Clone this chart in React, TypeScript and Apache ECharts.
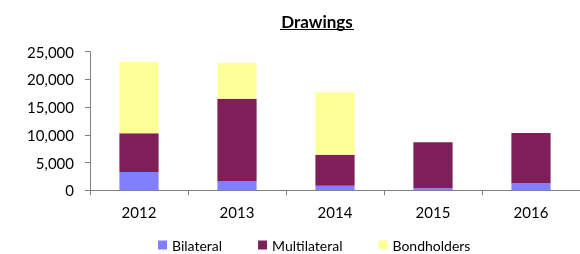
import React, { useEffect, useRef } from "react";
import * as echarts from "echarts";

const categories = ["2012", "2013", "2014", "2015", "2016"];
const bilateral = [3300, 1680, 830, 360, 1250];
const multilateral = [6980, 14850, 5590, 8300, 9090];
const bondholders = [12860, 6490, 11260, 0, 0];
const seriesNames = ["Bilateral", "Multilateral", "Bondholders"];
const colors = ["#8080FF", "#7F1F5A", "#FFFF99"];

export default function App() {
  const ref = useRef<HTMLDivElement>(null);
  useEffect(() => {
    if (!ref.current) return;
    const chart = echarts.init(ref.current, null, { renderer: "svg" });
    const font = "Lato";
    const mk = (name: string, data: number[], color: string) => ({
      name,
      type: "bar",
      stack: "total",
      data,
      barWidth: "40%",
      itemStyle: { color },
    });
    chart.setOption({
      animation: false,
      textStyle: { fontFamily: font },
      graphic: [
        {
          type: "text",
          x: 317,
          y: 21,
          style: {
            text: "Drawings",
            font: "bold 17px Lato",
            fill: "#000",
            align: "center",
            verticalAlign: "middle",
          },
        },
        {
          type: "line",
          shape: { x1: 280, y1: 29.5, x2: 354, y2: 29.5 },
          style: { stroke: "#000", lineWidth: 1.2 },
        },
      ],
      legend: {
        data: seriesNames,
        bottom: -3,
        left: 153,
        itemWidth: 9,
        itemHeight: 9,
        itemGap: 36,
        icon: "rect",
        textStyle: { fontFamily: font, fontSize: 14, color: "#000" },
      },
      grid: { left: 90, right: -13, top: 51.7, bottom: 63.7, containLabel: false },
      xAxis: {
        type: "category",
        data: categories,
        axisLine: { lineStyle: { color: "#808080", width: 1 } },
        axisTick: { show: true, length: 5, lineStyle: { color: "#808080" } },
        axisLabel: { fontFamily: font, fontSize: 15, color: "#000", margin: 14 },
      },
      yAxis: {
        type: "value",
        min: 0,
        max: 25000,
        interval: 5000,
        axisLine: { show: true, lineStyle: { color: "#808080", width: 1 } },
        axisTick: { show: true, length: 5, lineStyle: { color: "#808080" } },
        splitLine: { show: false },
        axisLabel: {
          fontFamily: font,
          fontSize: 15,
          color: "#000",
          margin: 16,
          formatter: (v: number) => v.toLocaleString("en-US"),
        },
      },
      series: [
        mk(seriesNames[0], bilateral, colors[0]),
        mk(seriesNames[1], multilateral, colors[1]),
        mk(seriesNames[2], bondholders, colors[2]),
      ],
    });
    return () => chart.dispose();
  }, []);
  return (
    <div
      ref={ref}
      style={{ position: "fixed", left: 0, top: 0, width: 580, height: 254 }}
    />
  );
}
